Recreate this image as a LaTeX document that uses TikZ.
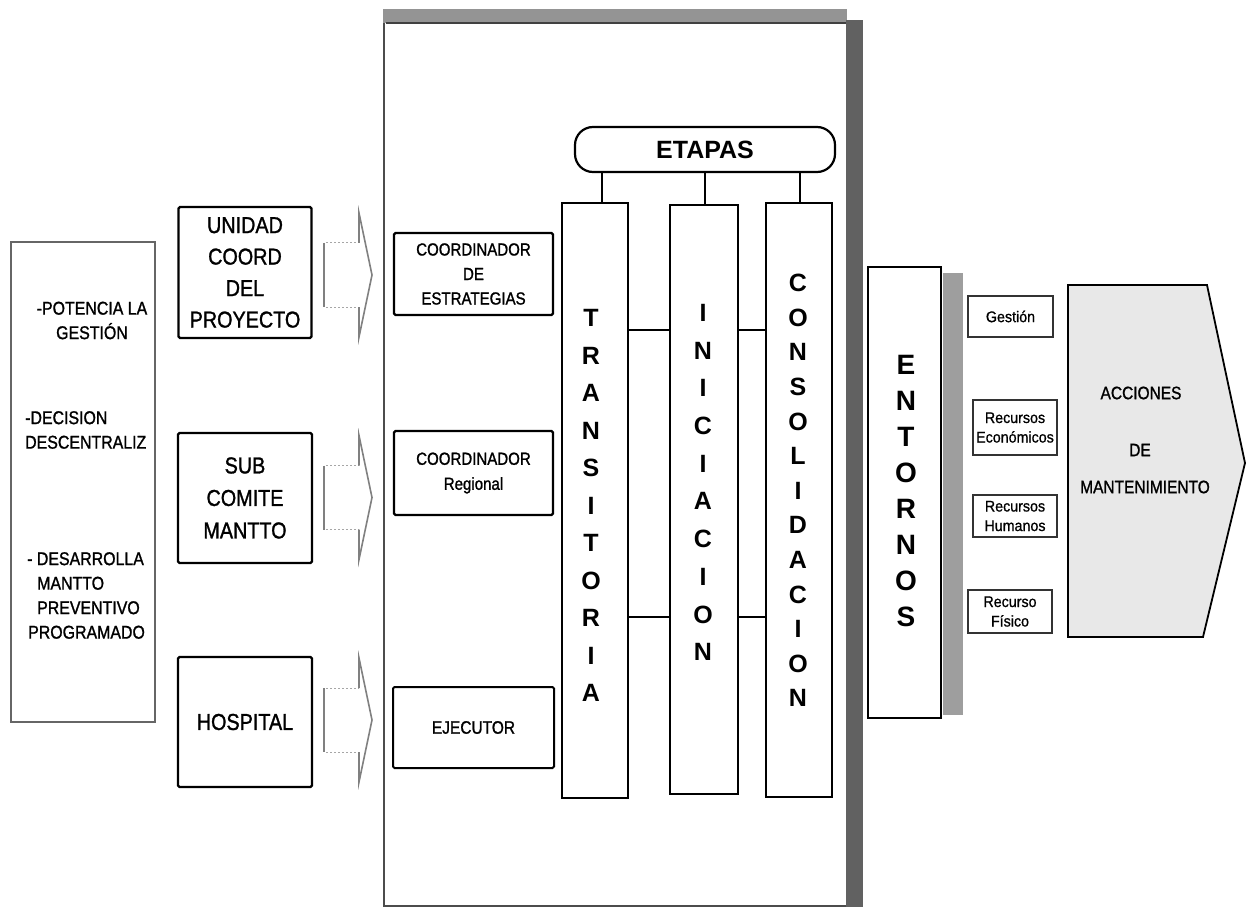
\documentclass[tikz,border=0pt]{standalone}
\usepackage{fontspec}
\setmainfont{Liberation Sans}
\newfontfamily\cond[FakeStretch=0.86,FakeBold=1.2]{Liberation Sans}
\newfontfamily\smf[FakeStretch=0.92,FakeBold=0.8]{Liberation Sans}
\usetikzlibrary{calc}
\begin{document}
\begin{tikzpicture}[x=1pt,y=-1pt,
  bx/.style={draw=black, line width=2.4pt, rounded corners=1.5pt, inner sep=0pt, align=center},
  colbox/.style={draw=black, line width=2.2pt, inner sep=0pt, minimum width=66pt},
  sm/.style={draw=black!80, line width=1.2pt, inner sep=0pt, align=center, font=\smf\fontsize{15.5}{19.5}\selectfont},
  lnk/.style={line width=2pt},
  blk/.style={draw=black!50, line width=1.6pt, line join=miter},
  blkd/.style={draw=black!35, line width=1pt, dash pattern=on 2pt off 2pt},
  vlet/.style={align=center, inner sep=0pt},
  ltxt/.style={inner sep=0pt, font=\cond\fontsize{18.5}{24.5}\selectfont},
  bigt/.style={font=\cond\fontsize{23}{31.5}\selectfont},
]
\useasboundingbox (0,0) rectangle (1252,909);
\fill[white] (0,0) rectangle (1252,909);

% central panel
\draw[black!70, line width=1.6pt] (384,12) -- (384,906) -- (846,906);
\fill[black!42] (383,9) rectangle (847,23);
\draw[black!75, line width=2pt] (386,23) -- (847,23);
\fill[black!62] (846,20) rectangle (863,907);

% left description box
\node[draw=black!60, line width=1.4pt, minimum width=144pt, minimum height=480pt, inner sep=0pt] (lbox) at (83,482) {};
\node[ltxt, align=center] (p1) at (92,320.5) {-POTENCIA LA\\GESTIÓN};
\node[ltxt, align=left, anchor=west] (p2) at (25,430) {-DECISION\\DESCENTRALIZ};
\node[ltxt, align=left, anchor=west] (p3) at (27,595.5) {- DESARROLLA\\\hspace*{10pt}MANTTO\\\hspace*{10pt}PREVENTIVO\\\hspace*{1pt}PROGRAMADO};

% left boxes
\node[bx, bigt, minimum width=133pt, minimum height=131pt] (unidad) at (245,272.5) {UNIDAD\\COORD\\DEL\\PROYECTO};
\node[bx, bigt, minimum width=134pt, minimum height=130pt, font=\cond\fontsize{23}{32.5}\selectfont] (sub) at (245,498) {SUB\\COMITE\\MANTTO};
\node[bx, bigt, minimum width=134pt, minimum height=130pt] (hosp) at (245,722) {HOSPITAL};

% block arrows
\foreach \c in {275,497.5,720} {
  \draw[blk] (324,\c-32) -- (324,\c+32);
  \draw[blkd] (326,\c-32) -- (359,\c-32);
  \draw[blkd] (326,\c+32) -- (359,\c+32);
  \draw[blk] (359,\c-32) -- (359,\c-62) -- (372,\c) -- (359,\c+62) -- (359,\c+32);
}

% coordinator boxes
\node[bx, minimum width=159pt, minimum height=82pt, font=\cond\fontsize{17.5}{24.5}\selectfont] (cest) at (473.5,274) {COORDINADOR\\DE\\ESTRATEGIAS};
\node[bx, minimum width=159pt, minimum height=84pt, font=\cond\fontsize{17.5}{25}\selectfont] (creg) at (473.5,473) {COORDINADOR\\Regional};
\node[bx, line width=2pt, minimum width=161pt, minimum height=81pt, font=\cond\fontsize{18}{20}\selectfont] (ejec) at (473.5,727.5) {EJECUTOR};

% etapas
\node[draw, line width=2.2pt, rounded corners=18pt, minimum width=260pt, minimum height=45pt, inner sep=0pt, font=\bfseries\fontsize{25}{30}\selectfont] (etapas) at (705,149.5) {ETAPAS};

\node[colbox, minimum height=595pt] (trans) at (595,500.5) {};
\node[colbox, minimum width=68pt, minimum height=589pt] (inic) at (704,499.5) {};
\node[colbox, minimum height=594pt] (cons) at (799,500) {};

\node[vlet, font=\bfseries\fontsize{25}{37.5}\selectfont] (transL) at (591,505.5) {T\\R\\A\\N\\S\\I\\T\\O\\R\\I\\A};
\node[vlet, font=\bfseries\fontsize{25}{37.7}\selectfont] (inicL) at (703,482.5) {I\\N\\I\\C\\I\\A\\C\\I\\O\\N};
\node[vlet, font=\bfseries\fontsize{25}{34.6}\selectfont] (consL) at (798,490.5) {C\\O\\N\\S\\O\\L\\I\\D\\A\\C\\I\\O\\N};

\draw[lnk] (etapas.south -| 602,0) -- (trans.north -| 602,0);
\draw[lnk] (etapas.south -| 705,0) -- (inic.north -| 705,0);
\draw[lnk] (etapas.south -| 800,0) -- (cons.north -| 800,0);
\draw[lnk] (trans.east |- 0,330) -- (inic.west |- 0,330);
\draw[lnk] (inic.east |- 0,330) -- (cons.west |- 0,330);
\draw[lnk] (trans.east |- 0,617) -- (inic.west |- 0,617);
\draw[lnk] (inic.east |- 0,617) -- (cons.west |- 0,617);

% entornos
\fill[black!38] (943,273) rectangle (963,715);
\node[draw, line width=2.2pt, minimum width=73pt, minimum height=451pt, inner sep=0pt] (ent) at (904.5,492.5) {};
\node[vlet, font=\bfseries\fontsize{28}{36}\selectfont] (entL) at (906,491) {E\\N\\T\\O\\R\\N\\O\\S};

% small boxes
\node[sm, minimum width=85pt, minimum height=41pt] (gest) at (1010.5,316.5) {Gestión};
\node[sm, minimum width=84pt, minimum height=55pt] (reco) at (1015,427.5) {Recursos\\Económicos};
\node[sm, minimum width=84pt, minimum height=42pt] (rhum) at (1015,516) {Recursos\\Humanos};
\node[sm, minimum width=84pt, minimum height=43pt] (rfis) at (1010,611.5) {Recurso\\Físico};

% acciones
\filldraw[fill=black!9, draw=black, line width=1.8pt, line join=miter] (1068,285) -- (1207,285) -- (1245,463) -- (1203,637) -- (1068,637) -- cycle;
\node[font=\cond\fontsize{18}{22}\selectfont, inner sep=0pt] (acc1) at (1141,393) {ACCIONES};
\node[font=\cond\fontsize{18}{22}\selectfont, inner sep=0pt] (acc2) at (1140,450) {DE};
\node[font=\cond\fontsize{18}{22}\selectfont, inner sep=0pt] (acc3) at (1145,487) {MANTENIMIENTO};
\end{tikzpicture}
\end{document}
